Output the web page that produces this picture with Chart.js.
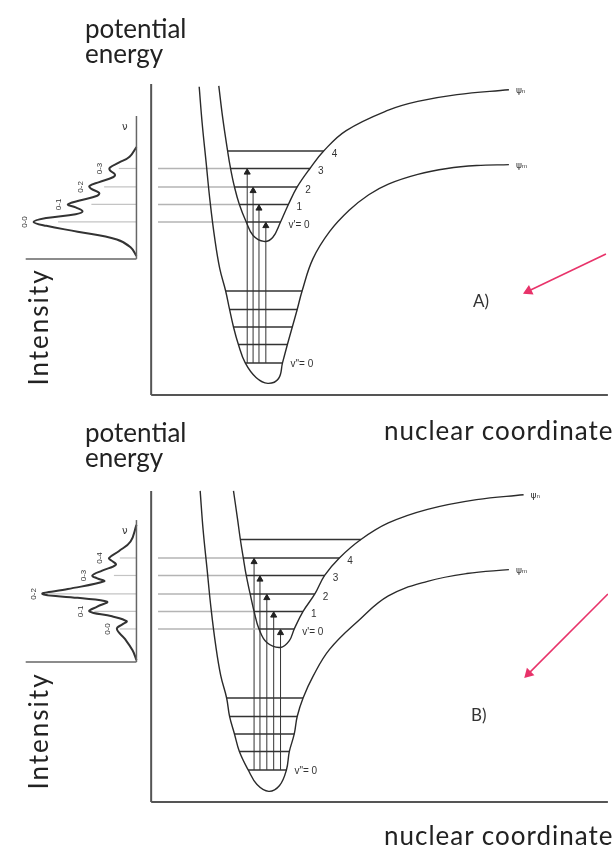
<!DOCTYPE html>
<html>
<head>
<meta charset="utf-8">
<script src="https://cdn.jsdelivr.net/npm/chart.js@4/dist/chart.umd.min.js"></script>
<style>
  body { margin: 0; background: #fff; width: 614px; height: 848px; position: relative; overflow: hidden; font-family: Lato, sans-serif; }
  canvas { position: absolute; left: 0; }
  .txt { position: absolute; color: #222; font-size: 26px; line-height: 25px; white-space: nowrap; }
  .wide { letter-spacing: 1px; }
  .rot { position: absolute; color: #222; font-size: 26px; letter-spacing: 2px; white-space: nowrap; transform: translate(-50%, -50%) rotate(-90deg); }
  .tag { position: absolute; color: #333; font-size: 17px; }
</style>
</head>
<body>
<canvas id="panelA" width="614" height="441" style="top:0"></canvas>
<canvas id="panelB" width="614" height="441" style="top:407px"></canvas>

<div class="txt" style="left:85px;top:16px">potential<br>energy</div>
<div class="txt wide" style="left:384px;top:418px">nuclear coordinate</div>
<div class="rot" style="left:38px;top:327px">Intensity</div>
<div class="tag" style="left:473px;top:290px">A)</div>

<div class="txt" style="left:85px;top:420px">potential<br>energy</div>
<div class="txt wide" style="left:384px;top:823px">nuclear coordinate</div>
<div class="rot" style="left:38px;top:731px">Intensity</div>
<div class="tag" style="left:471px;top:704px">B)</div>

<script>
// r = nuclear coordinate, E = potential energy (arbitrary units, both panels share the frame)
const energyAxis = [0, 320];
const coordAxis = [0, 466];
const guideStart = 7;

// ---- Panel A ----
const groundCurveA = [[49,317],[52,280],[56,240],[60,200],[65,160],[70,130],[76,107],[80,88],[84,70],[89,52],[96,33],[107,18],[119,12],[130,17],[134,33],[139,52],[144,70],[149,88],[154,107],[165,140],[182,168],[202,190],[222,206],[242,217],[272,227],[302,233],[332,236],[365,237]];
const excitedCurveA = [[69,318],[73,285],[78,251],[81,233],[85,214],[90,196],[97,178],[104,164],[115,158],[124,162],[132,178],[140,196],[149,214],[162,233],[176,251],[199,272],[242,293],[272,302],[312,309],[365,314]];
const groundLevelEA = [33, 52, 70, 88, 107];
const groundLeftA = [96, 89, 84, 80, 76];
const groundRightA = [134, 139, 144, 149, 154];
const excitedLevelEA = [178, 196, 214, 233, 251];
const excitedLeftA = [97, 90, 85, 81, 78];
const excitedRightA = [132, 140, 149, 162, 176];
const excitedLabelsA = ["v'= 0", "1", "2", "3", "4"];
const transitionRA = [117, 110, 104, 98];          // to v' = 0..3
const spectrumA = [[0,143],[6,152],[20,160],[60,168],[92,174],[105,178],[92,182],[62,186],[55,189],[62,193],[70,196],[58,200],[40,205],[38,208],[46,212],[48,215],[38,219],[24,224],[22,227],[27,231],[27,234],[18,239],[7,245],[0,255]];
const peakLabelsA = ["0-0", "0-1", "0-2", "0-3"];
const peakIA = [105, 70, 48, 28];
const specTickA = [80, 46, 33, 18];
const specRangeA = [140, 287];
const arrowA = [[464,145],[385,107]];

// ---- Panel B ----
const groundCurveB = [[50,320],[53,280],[57,240],[61,200],[66,160],[71,130],[77,107],[80,88],[85,70],[90,52],[99,33],[108,18],[120,11],[131,17],[138,33],[141,52],[146,70],[149,88],[155,107],[165,129],[182,157],[212,187],[242,212],[282,227],[322,235],[365,239]];
const excitedCurveB = [[84,320],[88,292],[91,270],[94,251],[97,233],[101,214],[105,196],[110,178],[118,164],[132,159],[141,166],[146,178],[155,196],[167,214],[177,233],[192,251],[214,270],[242,287],[282,301],[332,311],[380,316]];
const groundLevelEB = [33, 52, 70, 88, 107];
const groundLeftB = [99, 90, 85, 80, 77];
const groundRightB = [138, 141, 146, 149, 155];
const excitedLevelEB = [178, 196, 214, 233, 251, 270];
const excitedLeftB = [110, 105, 101, 97, 94, 91];
const excitedRightB = [146, 155, 167, 177, 192, 214];
const excitedLabelsB = ["v'= 0", "1", "2", "3", "4", ""];
const transitionRB = [132, 125, 118, 111, 105];     // to v' = 0..4
const spectrumB = [[0,146],[4,156],[12,168],[20,178],[14,183],[10,186],[25,191],[48,196],[40,201],[30,206],[60,210],[96,214],[70,219],[33,227],[40,230],[45,233],[35,238],[21,244],[25,248],[28,251],[18,258],[6,268],[0,285]];
const peakLabelsB = ["0-0", "0-1", "0-2", "0-3", "0-4"];
const peakIB = [20, 48, 96, 45, 28];
const specTickB = [17, 43, 90, 23, 17];
const specRangeB = [144, 290];
const arrowB = [[466,214],[385,132]];

const panels = [
  { id: 'panelA', ground: groundCurveA, excited: excitedCurveA,
    gE: groundLevelEA, gL: groundLeftA, gR: groundRightA,
    eE: excitedLevelEA, eL: excitedLeftA, eR: excitedRightA, eLab: excitedLabelsA,
    tr: transitionRA, spec: spectrumA, pLab: peakLabelsA, pI: peakIA, tick: specTickA,
    sRange: specRangeA, arrow: arrowA },
  { id: 'panelB', ground: groundCurveB, excited: excitedCurveB,
    gE: groundLevelEB, gL: groundLeftB, gR: groundRightB,
    eE: excitedLevelEB, eL: excitedLeftB, eR: excitedRightB, eLab: excitedLabelsB,
    tr: transitionRB, spec: spectrumB, pLab: peakLabelsB, pI: peakIB, tick: specTickB,
    sRange: specRangeB, arrow: arrowB }
];

const line = (pts, color, width, tension, axis) => ({
  data: pts.map(p => ({ x: p[0], y: p[1] })),
  showLine: true, fill: false,
  borderColor: color, borderWidth: width,
  pointRadius: 0, tension: tension || 0,
  xAxisID: axis || 'x', yAxisID: 'y'
});

function buildPanel(p) {
  const ds = [];
  // axes
  ds.push(line([[0, energyAxis[0]], [0, energyAxis[1]]], '#555', 2));
  ds.push(line([[coordAxis[0], 0], [coordAxis[1], 0]], '#555', 2));
  // potential curves
  ds.push(line(p.ground, '#2a2a2a', 1.4, 0.4));
  ds.push(line(p.excited, '#2a2a2a', 1.4, 0.4));
  // vibrational levels
  p.gE.forEach((e, i) => ds.push(line([[p.gL[i], e], [p.gR[i], e]], '#333', 1.5)));
  p.eE.forEach((e, i) => ds.push(line([[p.eL[i], e], [p.eR[i], e]], '#333', 1.5)));
  // guide lines from the excited levels to the spectrum
  p.tr.forEach((r, i) => ds.push(line([[guideStart, p.eE[i]], [p.eL[i], p.eE[i]]], '#b4b4b4', 1.5)));
  // vertical transitions with arrow heads
  p.tr.forEach((r, i) => {
    const d = line([[r, p.gE[0]], [r, p.eE[i] - 4], [r, p.eE[i]]], '#333', 1);
    d.pointRadius = [0, 3.5, 0];
    d.pointStyle = 'triangle';
    d.pointBackgroundColor = '#222';
    d.pointBorderColor = '#222';
    ds.push(d);
  });
  // spectrum (intensity grows to the left)
  ds.push(line([[0, p.sRange[0]], [0, p.sRange[1]]], '#666', 1.5, 0, 'xs'));
  ds.push(line([[0, p.sRange[0]], [113, p.sRange[0]]], '#666', 1.5, 0, 'xs'));
  p.tick.forEach((t, i) => ds.push(line([[0, p.eE[i]], [t, p.eE[i]]], '#c4c4c4', 1.2, 0, 'xs')));
  ds.push(line(p.spec, '#333', 2, 0.4, 'xs'));
  // pink pointer
  const a = line(p.arrow, '#e8336a', 1.6);
  const dx = p.arrow[1][0] - p.arrow[0][0], dy = p.arrow[1][1] - p.arrow[0][1];
  a.pointRadius = [0, 4.5];
  a.pointStyle = 'triangle';
  a.rotation = Math.atan2(dx, dy) * 180 / Math.PI;
  a.pointBackgroundColor = '#e8336a';
  a.pointBorderColor = '#e8336a';
  ds.push(a);
  return ds;
}

const labelPlugin = (p) => ({
  id: 'labels',
  afterDatasetsDraw(chart) {
    const ctx = chart.ctx, x = chart.scales.x, xs = chart.scales.xs, y = chart.scales.y;
    ctx.save();
    ctx.fillStyle = '#333';
    ctx.font = "10px 'Liberation Sans'";
    ctx.textBaseline = 'middle';
    ctx.textAlign = 'left';
    p.eLab.forEach((t, i) => ctx.fillText(t, x.getPixelForValue(p.eR[i]) + 8, y.getPixelForValue(p.eE[i]) + 3));
    ctx.fillText('v"= 0', x.getPixelForValue(p.gR[0]) + 8, y.getPixelForValue(p.gE[0]) + 1);
    ctx.font = "9px 'DejaVu Sans'";
    const gEnd = p.ground[p.ground.length - 1], eEnd = p.excited[p.excited.length - 1];
    ctx.fillText('ψₙ', x.getPixelForValue(eEnd[0]) + 7, y.getPixelForValue(eEnd[1]) + 1);
    ctx.fillText('ψₘ', x.getPixelForValue(gEnd[0]) + 7, y.getPixelForValue(gEnd[1]) + 1);
    ctx.font = "10px 'DejaVu Sans'";
    ctx.textAlign = 'center';
    ctx.fillText('ν', xs.getPixelForValue(12), y.getPixelForValue(p.sRange[1] - 12));
    ctx.font = "8px 'Liberation Sans'";
    p.pLab.forEach((t, i) => {
      ctx.save();
      ctx.translate(xs.getPixelForValue(p.pI[i] + 9), y.getPixelForValue(p.eE[i]));
      ctx.rotate(-Math.PI / 2);
      ctx.fillText(t, 0, 0);
      ctx.restore();
    });
    ctx.restore();
  }
});

panels.forEach(p => {
  new Chart(document.getElementById(p.id), {
    type: 'scatter',
    data: { datasets: buildPanel(p) },
    options: {
      responsive: false,
      animation: false,
      devicePixelRatio: 1,
      events: [],
      layout: { padding: 0 },
      plugins: { legend: { display: false }, tooltip: { enabled: false } },
      scales: {
        x: { type: 'linear', min: -148, max: 466, display: false },
        xs: { type: 'linear', min: -481, max: 133, reverse: true, display: false },
        y: { type: 'linear', min: -41, max: 400, display: false }
      }
    },
    plugins: [labelPlugin(p)]
  });
});
</script>
</body>
</html>
